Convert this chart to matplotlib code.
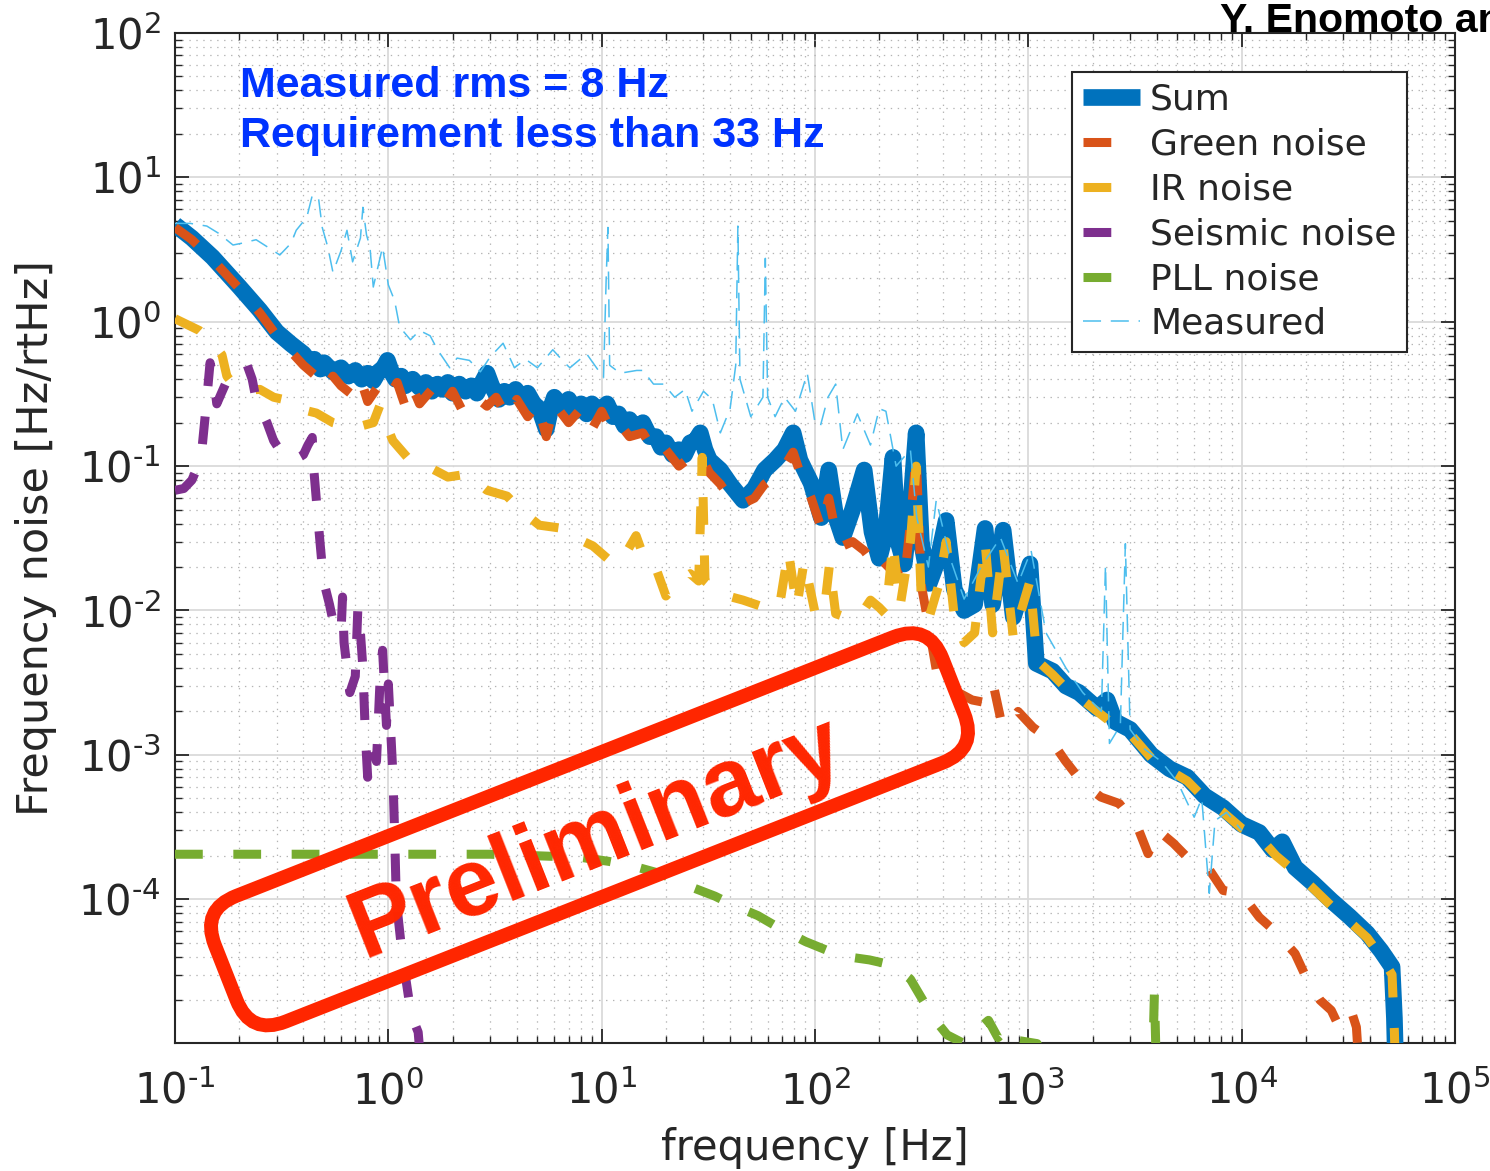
import numpy as np
import matplotlib.pyplot as plt
from matplotlib.patches import FancyBboxPatch
from matplotlib.transforms import Affine2D
from matplotlib.ticker import LogLocator, NullFormatter, FuncFormatter

# Frequency noise budget: (frequency [Hz], noise [Hz/rtHz])

sum_noise = [
    (0.1, 4.7), (0.12, 3.8), (0.15, 2.8), (0.2, 1.75), (0.25, 1.2), (0.3, 0.85),
    (0.35, 0.7), (0.4, 0.6), (0.43, 0.52), (0.45, 0.55), (0.48, 0.47), (0.5, 0.52),
    (0.55, 0.45), (0.6, 0.48), (0.65, 0.42), (0.7, 0.46), (0.75, 0.4), (0.8, 0.44),
    (0.85, 0.39), (0.9, 0.45), (0.95, 0.48), (0.99, 0.54), (1.04, 0.44), (1.08, 0.4),
    (1.15, 0.42), (1.2, 0.36), (1.3, 0.4), (1.4, 0.35), (1.5, 0.38), (1.6, 0.33),
    (1.7, 0.37), (1.8, 0.34), (1.9, 0.38), (2.0, 0.32), (2.15, 0.37), (2.3, 0.33),
    (2.45, 0.36), (2.6, 0.32), (2.75, 0.38), (2.9, 0.44), (3.05, 0.36), (3.3, 0.29),
    (3.5, 0.33), (3.7, 0.3), (3.95, 0.34), (4.2, 0.3), (4.5, 0.32), (4.8, 0.27),
    (5.1, 0.25), (5.5, 0.18), (5.8, 0.26), (6.0, 0.3), (6.5, 0.26), (7.0, 0.29),
    (7.5, 0.24), (8.0, 0.27), (8.5, 0.23), (9.0, 0.27), (9.7, 0.24), (10.6, 0.27),
    (11.3, 0.22), (12.0, 0.23), (12.8, 0.19), (13.5, 0.21), (14.5, 0.18), (15.6, 0.2),
    (16.8, 0.16), (18.0, 0.16), (19.0, 0.135), (20.0, 0.145), (21.5, 0.12),
    (23.0, 0.13), (24.5, 0.12), (26.0, 0.145), (27.5, 0.15), (29.0, 0.17),
    (30.5, 0.13), (32.0, 0.11), (36.0, 0.094), (40.0, 0.075), (46.0, 0.058),
    (52.0, 0.07), (58.0, 0.094), (65.0, 0.11), (72.0, 0.13), (79.0, 0.17), (85.0, 0.11),
    (96.0, 0.076), (107.0, 0.044), (116.0, 0.094), (125.0, 0.045), (135.0, 0.032),
    (150.0, 0.05), (170.0, 0.094), (185.0, 0.035), (200.0, 0.023), (215.0, 0.035),
    (232.0, 0.115), (245.0, 0.03), (262.0, 0.021), (280.0, 0.05), (298.0, 0.17),
    (315.0, 0.03), (343.0, 0.0154), (375.0, 0.022), (412.0, 0.042), (450.0, 0.014),
    (500.0, 0.01), (560.0, 0.011), (627.0, 0.037), (680.0, 0.011), (762.0, 0.036),
    (850.0, 0.009), (1018.0, 0.021), (1090.0, 0.0043), (1300.0, 0.0038),
    (1500.0, 0.003), (1730.0, 0.0027), (2100.0, 0.0021), (2340.0, 0.0024),
    (2550.0, 0.0017), (3000.0, 0.0015), (3770.0, 0.001), (4600.0, 0.0008),
    (5560.0, 0.0007), (6700.0, 0.00052), (8190.0, 0.00043), (10000.0, 0.00033),
    (12100.0, 0.00029), (14000.0, 0.00022), (15500.0, 0.00025), (17800.0, 0.000166),
    (21500.0, 0.00013), (26300.0, 9.8e-5), (32000.0, 7.6e-5), (38800.0, 5.8e-5),
    (45000.0, 4.4e-5), (50700.0, 3.4e-5), (52000.0, 1.5e-5), (53000.0, 5e-6),
]

green_noise = [
    (0.1, 4.5), (0.12, 3.7), (0.15, 2.7), (0.2, 1.7), (0.25, 1.15), (0.3, 0.8),
    (0.35, 0.62), (0.4, 0.5), (0.45, 0.43), (0.5, 0.34), (0.55, 0.42), (0.6, 0.36),
    (0.7, 0.3), (0.75, 0.38), (0.8, 0.28), (0.9, 0.36), (1.0, 0.3), (1.1, 0.38),
    (1.2, 0.26), (1.3, 0.35), (1.4, 0.27), (1.6, 0.34), (1.8, 0.26), (2.0, 0.33),
    (2.2, 0.25), (2.5, 0.31), (2.9, 0.26), (3.2, 0.3), (3.6, 0.22), (4.0, 0.29),
    (4.5, 0.22), (5.0, 0.27), (5.5, 0.16), (6.0, 0.27), (7.0, 0.2), (8.0, 0.25),
    (9.0, 0.18), (10.0, 0.24), (11.0, 0.18), (12.0, 0.2), (13.5, 0.16), (15.6, 0.17),
    (18.0, 0.12), (20.0, 0.13), (23.0, 0.1), (26.0, 0.115), (29.0, 0.12), (32.0, 0.09),
    (36.0, 0.075), (40.0, 0.06), (46.0, 0.055), (52.0, 0.06), (58.0, 0.075),
    (65.0, 0.085), (72.0, 0.1), (79.0, 0.125), (85.0, 0.09), (96.0, 0.06),
    (107.0, 0.037), (116.0, 0.06), (125.0, 0.035), (135.0, 0.028), (150.0, 0.03),
    (170.0, 0.026), (185.0, 0.022), (200.0, 0.018), (215.0, 0.02), (232.0, 0.022),
    (245.0, 0.018), (262.0, 0.016), (280.0, 0.04), (298.0, 0.12), (315.0, 0.015),
    (343.0, 0.0075), (370.0, 0.0039), (449.0, 0.0028), (545.0, 0.0024),
    (632.0, 0.0023), (684.0, 0.0031), (740.0, 0.0018), (804.0, 0.00155),
    (895.0, 0.002), (1052.0, 0.00155), (1280.0, 0.00126), (1490.0, 0.00091),
    (1810.0, 0.00063), (2190.0, 0.00051), (2670.0, 0.00046), (3240.0, 0.00032),
    (3640.0, 0.000207), (4060.0, 0.0003), (4790.0, 0.000244), (5560.0, 0.000195),
    (6750.0, 0.000177), (8190.0, 0.000115), (9950.0, 0.00011), (12100.0, 7.5e-5),
    (14700.0, 5.8e-5), (17800.0, 4.2e-5), (20000.0, 2.9e-5), (23300.0, 2.0e-5),
    (26300.0, 1.7e-5), (28000.0, 1.4e-5), (30000.0, 8e-6), (32000.0, 8e-6),
    (33000.0, 1.6e-5), (34500.0, 1.3e-5), (36000.0, 5e-6),
]

ir_noise = [
    (0.1, 1.05), (0.115, 0.95), (0.13, 0.87), (0.15, 0.72), (0.166, 0.59),
    (0.175, 0.42), (0.19, 0.36), (0.218, 0.336), (0.25, 0.34), (0.29, 0.3),
    (0.335, 0.286), (0.38, 0.25), (0.46, 0.233), (0.55, 0.2), (0.66, 0.186),
    (0.75, 0.19), (0.85, 0.2), (0.91, 0.26), (0.97, 0.2), (1.05, 0.15), (1.26, 0.11),
    (1.52, 0.1), (1.9, 0.084), (2.34, 0.088), (2.9, 0.068), (3.6, 0.062), (4.2, 0.049),
    (5.1, 0.039), (6.6, 0.037), (7.5, 0.032), (9.1, 0.028), (11.4, 0.021), (13.0, 0.025),
    (14.5, 0.033), (16.0, 0.022), (18.2, 0.0186), (20.0, 0.0126), (23.0, 0.016),
    (26.0, 0.018), (28.5, 0.016), (29.6, 0.115), (30.5, 0.016), (36.0, 0.013),
    (46.0, 0.0118), (58.0, 0.0105), (68.0, 0.0105), (75.0, 0.026), (82.0, 0.0105),
    (89.0, 0.022), (100.0, 0.0097), (110.0, 0.0094), (117.0, 0.021), (125.0, 0.0095),
    (145.0, 0.0088), (165.0, 0.0095), (182.0, 0.0118), (200.0, 0.0105), (215.0, 0.0094),
    (232.0, 0.03), (250.0, 0.0105), (280.0, 0.03), (298.0, 0.1), (315.0, 0.012),
    (343.0, 0.009), (380.0, 0.015), (412.0, 0.03), (450.0, 0.009), (500.0, 0.006),
    (560.0, 0.007), (627.0, 0.03), (680.0, 0.007), (762.0, 0.028), (850.0, 0.0065),
    (1018.0, 0.016), (1100.0, 0.0045), (1300.0, 0.0036), (1500.0, 0.0029),
    (1730.0, 0.0025), (2100.0, 0.002), (2550.0, 0.0016), (3000.0, 0.0014),
    (3770.0, 0.00095), (4600.0, 0.00078), (5560.0, 0.00066), (6700.0, 0.0005),
    (8190.0, 0.0004), (10000.0, 0.00031), (12100.0, 0.00027), (14500.0, 0.0002),
    (17800.0, 0.000155), (21500.0, 0.00012), (26300.0, 9e-5), (32000.0, 7e-5),
    (38800.0, 5.4e-5), (45000.0, 4e-5), (50700.0, 3e-5), (52000.0, 1.2e-5),
    (53000.0, 4e-6),
]

seismic_noise = [
    (0.1, 0.068), (0.11, 0.07), (0.12, 0.08), (0.128, 0.1), (0.134, 0.135),
    (0.138, 0.21), (0.142, 0.33), (0.146, 0.52), (0.152, 0.4), (0.157, 0.27),
    (0.165, 0.32), (0.175, 0.39), (0.19, 0.44), (0.205, 0.48), (0.218, 0.5),
    (0.23, 0.4), (0.24, 0.29), (0.255, 0.24), (0.27, 0.2), (0.29, 0.15), (0.32, 0.12),
    (0.36, 0.11), (0.4, 0.12), (0.42, 0.14), (0.44, 0.158), (0.445, 0.104),
    (0.46, 0.058), (0.47, 0.04), (0.48, 0.028), (0.49, 0.02), (0.5, 0.0155),
    (0.53, 0.011), (0.55, 0.0085), (0.58, 0.0075), (0.6, 0.007), (0.61, 0.0124),
    (0.62, 0.006), (0.64, 0.004), (0.66, 0.0027), (0.7, 0.0035), (0.72, 0.0105),
    (0.74, 0.007), (0.76, 0.004), (0.78, 0.0014), (0.8, 0.0007), (0.84, 0.0011),
    (0.88, 0.0009), (0.92, 0.004), (0.94, 0.0053), (0.98, 0.0016), (1.0, 0.0031),
    (1.05, 0.00074), (1.07, 0.00029), (1.09, 9.8e-5), (1.16, 4.2e-5), (1.25, 2e-5),
    (1.3, 1.5e-5), (1.38, 1.2e-5), (1.45, 5e-6),
]

pll_noise = [
    (0.1, 2.05e-4), (0.3, 2.05e-4), (1.0, 2.05e-4), (3.0, 2.05e-4), (5.0, 2.0e-4),
    (8.0, 1.95e-4), (10.8, 1.83e-4), (14.0, 1.7e-4), (19.0, 1.5e-4), (25.0, 1.25e-4),
    (34.0, 1.05e-4), (42.0, 9e-5), (54.0, 7.7e-5), (67.0, 6.4e-5), (90.0, 5.1e-5),
    (115.0, 4.4e-5), (141.0, 4.0e-5), (180.0, 3.8e-5), (230.0, 3.5e-5), (280.0, 2.8e-5),
    (314.0, 2.1e-5), (360.0, 1.5e-5), (416.0, 1.15e-5), (500.0, 1.0e-5),
    (560.0, 1.2e-5), (650.0, 1.45e-5), (720.0, 1.1e-5), (810.0, 1.3e-5),
    (900.0, 1.05e-5), (1100.0, 1.0e-5), (1200.0, 5e-6), (3800.0, 5e-6),
    (3900.0, 2.26e-5), (4000.0, 5e-6), (100000.0, 5e-6),
]

measured = [
    (0.1, 4.8), (0.118, 4.8), (0.141, 4.6), (0.16, 4.1), (0.187, 3.4), (0.206, 3.5),
    (0.24, 3.7), (0.28, 3.2), (0.31, 2.9), (0.35, 3.5), (0.37, 4.3), (0.415, 5.3),
    (0.44, 7.5), (0.47, 7.3), (0.49, 4.5), (0.52, 3.3), (0.55, 2.2), (0.6, 3.1),
    (0.64, 4.3), (0.68, 2.6), (0.74, 3.8), (0.76, 6.2), (0.79, 4.0), (0.82, 3.3),
    (0.85, 1.74), (0.94, 3.3), (1.0, 1.8), (1.07, 1.4), (1.13, 0.92), (1.27, 0.75),
    (1.4, 0.87), (1.57, 0.8), (1.7, 0.64), (1.94, 0.48), (2.1, 0.56), (2.4, 0.54),
    (2.7, 0.45), (3.0, 0.57), (3.45, 0.71), (3.9, 0.48), (4.4, 0.55), (5.0, 0.48),
    (5.9, 0.64), (6.7, 0.52), (7.1, 0.48), (8.5, 0.6), (10.2, 0.41), (10.5, 2.0),
    (10.7, 4.5), (10.9, 0.5), (12.2, 0.44), (14.6, 0.46), (15.6, 0.46), (17.5, 0.37),
    (19.5, 0.37), (22.0, 0.3), (24.6, 0.34), (26.5, 0.24), (30.0, 0.33), (33.0, 0.29),
    (36.0, 0.17), (40.0, 0.25), (42.5, 0.5), (43.5, 4.6), (44.5, 0.4), (50.0, 0.22),
    (57.0, 0.3), (58.5, 2.75), (60.0, 0.3), (65.0, 0.22), (72.0, 0.3), (81.0, 0.24),
    (92.0, 0.44), (100.0, 0.2), (106.0, 0.19), (115.0, 0.3), (125.0, 0.37),
    (135.0, 0.13), (158.0, 0.23), (182.0, 0.14), (200.0, 0.25), (215.0, 0.24),
    (240.0, 0.1), (280.0, 0.13), (300.0, 0.044), (340.0, 0.02), (370.0, 0.058),
    (430.0, 0.023), (500.0, 0.012), (600.0, 0.02), (740.0, 0.032), (895.0, 0.0154),
    (1030.0, 0.026), (1210.0, 0.007), (1500.0, 0.004), (1800.0, 0.0027),
    (2200.0, 0.002), (2300.0, 0.0206), (2400.0, 0.0012), (2700.0, 0.0016),
    (2850.0, 0.029), (3000.0, 0.0015), (3500.0, 0.0011), (4200.0, 0.0009),
    (5000.0, 0.00065), (5990.0, 0.00037), (6500.0, 0.0005), (7050.0, 0.00011),
    (7500.0, 0.00035), (8500.0, 0.0004), (10000.0, 0.0003),
]

# matlab default colours
c_sum = '#0072BD'
c_green = '#D95319'
c_ir = '#EDB120'
c_seis = '#7E2F8E'
c_pll = '#77AC30'
c_meas = '#4DBEEE'
c_stamp = '#FF2600'
c_axis = '#262626'

plt.rcParams['lines.scale_dashes'] = False
plt.rcParams['font.family'] = 'DejaVu Sans'

W, H = 1490, 1171
fig = plt.figure(figsize=(W / 100, H / 100), dpi=100)
ax = fig.add_axes([175 / W, 1 - 1043 / H, 1280 / W, 1010 / H])
ax.set_xscale('log')
ax.set_yscale('log')

dash = (0, (20, 22))


def xy(pts):
    a = np.array(pts)
    return a[:, 0], a[:, 1]


ax.plot(*xy(sum_noise), color=c_sum, lw=12, solid_capstyle='butt', label='Sum', zorder=3)
ax.plot(*xy(green_noise), color=c_green, lw=6.5, ls=dash, label='Green noise', zorder=4)
ax.plot(*xy(ir_noise), color=c_ir, lw=6.5, ls=dash, label='IR noise', zorder=5)
ax.plot(*xy(seismic_noise), color=c_seis, lw=6.5, ls=dash, label='Seismic noise', zorder=6)
ax.plot(*xy(pll_noise), color=c_pll, lw=6.5, ls=dash, label='PLL noise', zorder=7)
ax.plot(*xy(measured), color=c_meas, lw=1.1, ls=(0, (13, 7)), label='Measured', zorder=8)

ax.set_xlim(0.1, 1e5)
ax.set_ylim(1.01e-5, 100)


def dec_label(v, pos):
    # matlab style: plain hyphen in the exponent
    e = int(round(np.log10(v)))
    s = str(e).replace('-', '\u2010')
    return r'$\mathdefault{10^{%s}}$' % s


for axis in (ax.xaxis, ax.yaxis):
    axis.set_major_locator(LogLocator(base=10, numticks=20))
    axis.set_minor_locator(LogLocator(base=10, subs=np.arange(2, 10), numticks=100))
    axis.set_major_formatter(FuncFormatter(dec_label))
    axis.set_minor_formatter(NullFormatter())

ax.set_axisbelow(True)
ax.grid(True, which='major', color='#dadada', lw=1.3, ls='-')
ax.grid(True, which='minor', color='#b4b4b4', lw=0.9, ls=(0, (1, 4)))

ax.tick_params(which='both', direction='in', top=True, right=True,
               color=c_axis, labelcolor=c_axis, labelsize=30)
ax.tick_params(which='major', length=10, width=1.3)
ax.tick_params(which='minor', length=5, width=1.0)
ax.tick_params(axis='x', pad=20)
ax.tick_params(axis='y', pad=10)
for s in ax.spines.values():
    s.set_color(c_axis)
    s.set_linewidth(1.5)

ax.set_xlabel('frequency [Hz]', fontsize=30, color=c_axis)
ax.xaxis.set_label_coords(0.5, -(1127 - 1043) / 1010)
ax.set_ylabel('Frequency noise [Hz/rtHz]', fontsize=31, color=c_axis)
ax.yaxis.set_label_coords((57 - 175) / 1280, 0.5)

leg = ax.legend(loc='upper left', bbox_to_anchor=((1072 - 175) / 1280, 1 - (72 - 33) / 1010),
                borderaxespad=0, fontsize=26, frameon=True, fancybox=False,
                framealpha=1, edgecolor=c_axis, borderpad=0.3, labelspacing=0.3,
                handlelength=1.58, handletextpad=0.28)
leg.get_frame().set_linewidth(1.5)
for t in leg.get_texts():
    t.set_color(c_axis)

# blue annotation text
fig.text(240 / W, 1 - 97 / H, 'Measured rms = 8 Hz', fontsize=31, weight='bold',
         color='#0033FF', family='Liberation Sans', va='baseline')
fig.text(240 / W, 1 - 147 / H, 'Requirement less than 33 Hz', fontsize=31, weight='bold',
         color='#0033FF', family='Liberation Sans', va='baseline')

# author tag, cut off at the right edge like the original slide
fig.text(1220 / W, 1 - 32 / H, 'Y. Enomoto and', fontsize=29.5, weight='bold',
         color='black', family='Liberation Sans', va='baseline')

# "Preliminary" stamp (pixel coords, y up)
ang = 21.5
cx, cy = 589.5, H - 829.3
bw, bh = 782, 135
px_to_disp = Affine2D().rotate_deg_around(cx, cy, ang).scale(1 / 100) + fig.dpi_scale_trans
stamp = FancyBboxPatch((cx - bw / 2, cy - bh / 2), bw, bh,
                       boxstyle='round,pad=0,rounding_size=38', mutation_scale=1,
                       fill=False, ec=c_stamp, lw=10, transform=px_to_disp, zorder=20)
fig.add_artist(stamp)
fig.text(606.4 / W, 1 - 861.3 / H, 'Preliminary', fontsize=69, weight='bold',
         color=c_stamp, family='Liberation Sans', rotation=ang, rotation_mode='anchor',
         ha='center', va='baseline', zorder=21)

fig.savefig('out.png', dpi=100)
